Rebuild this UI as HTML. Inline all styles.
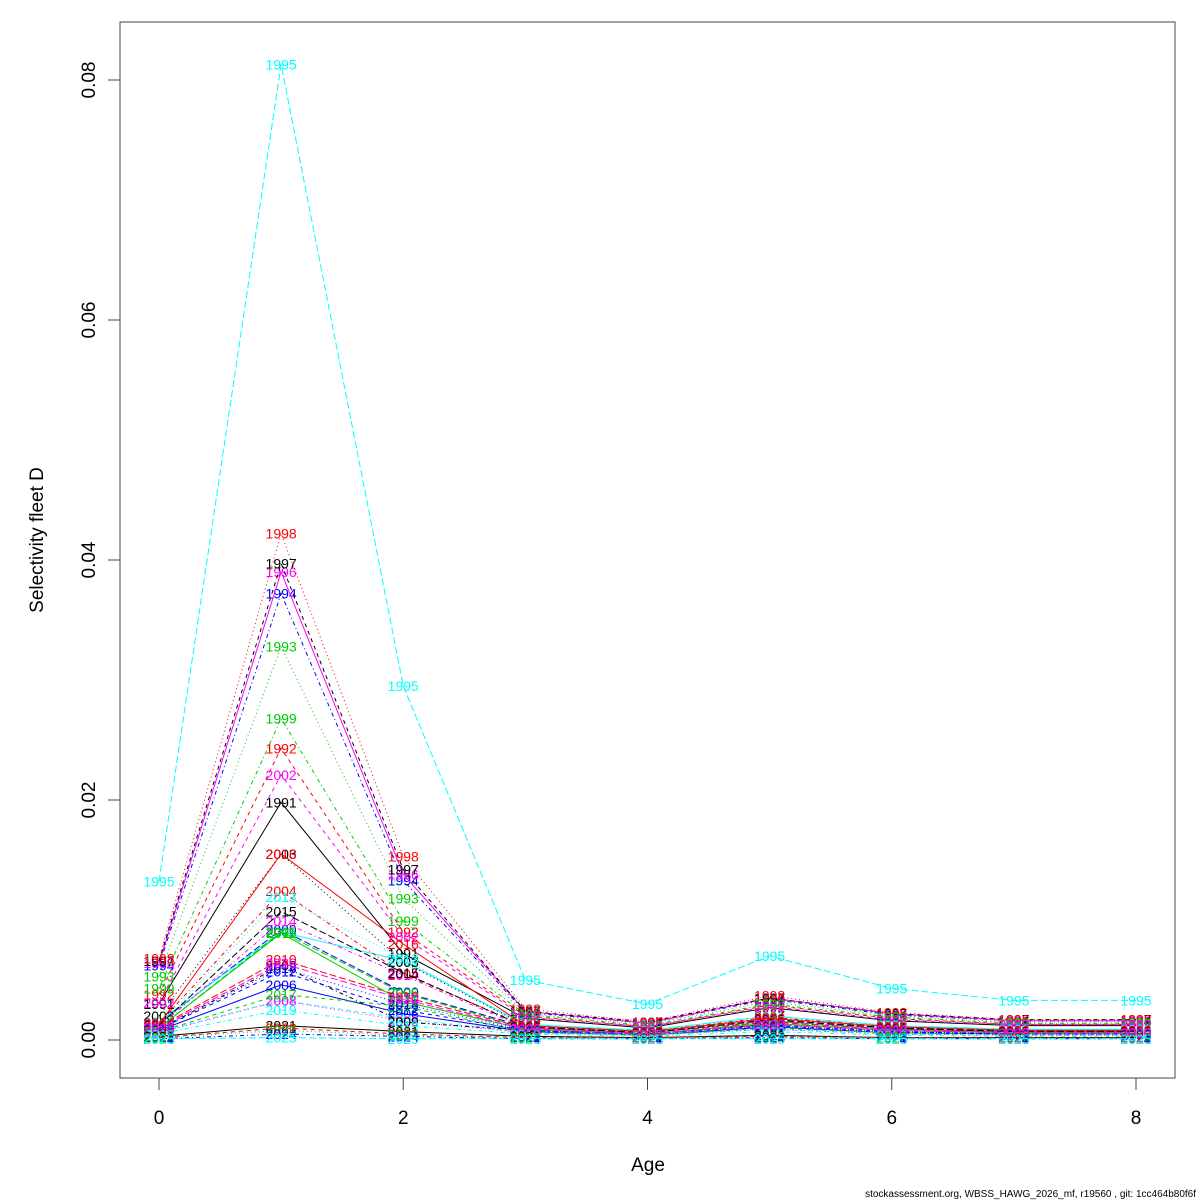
<!DOCTYPE html>
<html><head><meta charset="utf-8"><style>
body{margin:0;background:#fff;}
svg{display:block;font-family:"Liberation Sans",sans-serif;}
</style></head><body>
<svg id="chart" width="1200" height="1200" viewBox="0 0 1200 1200">
<rect x="120" y="22" width="1055" height="1056" fill="none" stroke="#444" stroke-width="1"/>
<g id="axes"></g>
<g id="series"></g>
<text transform="translate(43,540) rotate(-90)" text-anchor="middle" font-size="19">Selectivity fleet D</text>
<text x="648" y="1171" text-anchor="middle" font-size="19">Age</text>
<text x="1196" y="1197" text-anchor="end" font-size="10">stockassessment.org, WBSS_HAWG_2026_mf, r19560 , git: 1cc464b80f6f</text>
</svg>
<script>
const ages=[0,1,2,3,4,5,6,7,8];
const xTicks=[0,2,4,6,8];
const yTicks=[0,0.02,0.04,0.06,0.08];
const yTickLabels=["0.00","0.02","0.04","0.06","0.08"];
const years=[1991,1992,1993,1994,1995,1996,1997,1998,1999,2000,2001,2002,2003,2004,2005,2006,2007,2008,2009,2010,2011,2012,2013,2014,2015,2016,2017,2018,2019,2020,2021,2022,2023,2024,2025];
const s1991=[.0030,.0198,.0072,.0018,.0010,.0027,.0016,.0012,.0012];
const s1992=[.0038,.0243,.0090,.0020,.0011,.0029,.0018,.0013,.0013];
const s1993=[.0053,.0328,.0118,.0022,.0013,.0032,.0020,.0015,.0015];
const s1994=[.0062,.0372,.0133,.0023,.0014,.0034,.0021,.0016,.0016];
const s1995=[.0132,.0813,.0295,.0050,.0030,.0070,.0043,.0033,.0033];
const s1996=[.0064,.0390,.0138,.0024,.0014,.0035,.0022,.0016,.0016];
const s1997=[.0066,.0397,.0142,.0024,.0015,.0035,.0022,.0017,.0017];
const s1998=[.0068,.0422,.0153,.0026,.0015,.0037,.0023,.0017,.0017];
const s1999=[.0043,.0268,.0099,.0021,.0012,.0030,.0019,.0014,.0014];
const s2000=[.0014,.0092,.0040,.0011,.0006,.0016,.0010,.0008,.0008];
const s2001=[.0015,.0090,.0066,.0013,.0008,.0020,.0012,.0009,.0009];
const s2002=[.0031,.0221,.0086,.0019,.0011,.0028,.0017,.0013,.0013];
const s2003=[.0020,.0155,.0065,.0012,.0007,.0018,.0011,.0008,.0008];
const s2004=[.0014,.0124,.0055,.0012,.0007,.0019,.0011,.0008,.0008];
const s2005=[.0010,.0090,.0039,.0010,.0006,.0016,.0009,.0007,.0007];
const s2006=[.0008,.0046,.0022,.0007,.0004,.0011,.0006,.0005,.0005];
const s2007=[.0007,.0033,.0018,.0006,.0004,.0009,.0005,.0004,.0004];
const s2008=[.0006,.0033,.0016,.0006,.0004,.0009,.0005,.0004,.0004];
const s2009=[.0009,.0062,.0015,.0008,.0005,.0013,.0008,.0006,.0006];
const s2010=[.0011,.0067,.0036,.0010,.0006,.0015,.0009,.0007,.0007];
const s2011=[.0010,.0089,.0032,.0009,.0005,.0014,.0008,.0006,.0006];
const s2012=[.0009,.0057,.0025,.0008,.0005,.0012,.0007,.0005,.0005];
const s2013=[.0012,.0119,.0068,.0011,.0006,.0017,.0010,.0008,.0008];
const s2014=[.0011,.0099,.0054,.0010,.0006,.0016,.0009,.0007,.0007];
const s2015=[.0012,.0107,.0056,.0011,.0006,.0017,.0010,.0007,.0007];
const s2016=[.0013,.0155,.0080,.0012,.0007,.0018,.0011,.0008,.0008];
const s2017=[.0007,.0038,.0028,.0007,.0004,.0010,.0006,.0005,.0005];
const s2018=[.0009,.0060,.0030,.0008,.0005,.0012,.0007,.0005,.0005];
const s2019=[.0005,.0025,.0012,.0005,.0003,.0007,.0004,.0003,.0003];
const s2020=[.0010,.0064,.0034,.0009,.0005,.0013,.0008,.0006,.0006];
const s2021=[.0003,.0012,.0007,.0003,.0002,.0004,.0002,.0002,.0002];
const s2022=[.0002,.0010,.0005,.0002,.0002,.0003,.0002,.0002,.0002];
const s2023=[.0002,.0008,.0004,.0002,.0001,.0003,.0002,.0001,.0001];
const s2024=[.0001,.0005,.0003,.0001,.0001,.0002,.0001,.0001,.0001];
const s2025=[.0001,.0002,.0001,.0001,.0001,.0001,.0001,.0001,.0001];
const seriesValues=[s1991,s1992,s1993,s1994,s1995,s1996,s1997,s1998,s1999,s2000,s2001,s2002,s2003,s2004,s2005,s2006,s2007,s2008,s2009,s2010,s2011,s2012,s2013,s2014,s2015,s2016,s2017,s2018,s2019,s2020,s2021,s2022,s2023,s2024,s2025];

const palette=["#000000","#ff0000","#00cd00","#0000ff","#00ffff","#ff00ff"];
const dashes=["","4,4","1,3","1,3,4,3","7,3"];
const NS="http://www.w3.org/2000/svg";
function xs(a){return 159+a*(1136-159)/8;}
function ys(v){return 1040-v*(1040-80)/0.08;}
function mk(tag,attrs,parent){const e=document.createElementNS(NS,tag);for(const k in attrs)e.setAttribute(k,attrs[k]);parent.appendChild(e);return e;}
const axes=document.getElementById('axes');
xTicks.forEach(t=>{
  const l=mk('line',{x1:xs(t),x2:xs(t),y1:1078,y2:1090,stroke:'#444'},axes);
  
  
  const tx=mk('text',{x:xs(t),y:1124,'text-anchor':'middle','font-size':19},axes);
  
  
  tx.textContent=t;
});
yTicks.forEach((t,i)=>{
  const l=mk('line',{x1:108,x2:120,y1:ys(t),y2:ys(t),stroke:'#444'},axes);
  
  
  const tx=mk('text',{transform:`translate(95,${ys(t)}) rotate(-90)`,'text-anchor':'middle','font-size':19},axes);
  
  
  tx.textContent=yTickLabels[i];
});
const sg=document.getElementById('series');
years.forEach((yr,i)=>{
  const col=palette[i%6], da=dashes[i%5];
  const g=mk('g',{},sg);
  
  
  const vals=seriesValues[i];
  const pts=ages.map((a,j)=>xs(a)+','+ys(vals[j])).join(' ');
  const pl=mk('polyline',{points:pts,fill:'none',stroke:col,'stroke-width':1},g);
  if(da)pl.setAttribute('stroke-dasharray',da);
  
  
  ages.forEach((a,j)=>{
    const t=mk('text',{x:xs(a),y:ys(vals[j])+5,'text-anchor':'middle','font-size':14,fill:col},g);
    
    
    t.textContent=yr;
  });
});
</script>
</body></html>
